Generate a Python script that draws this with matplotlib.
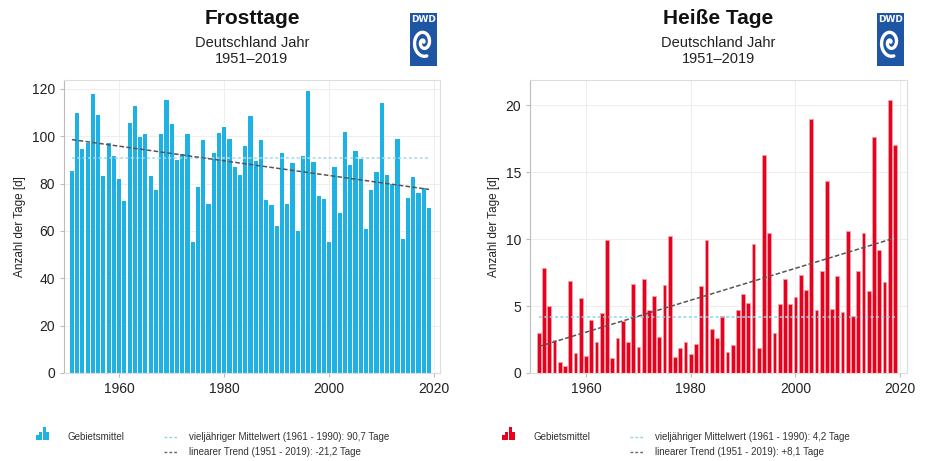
import numpy as np
import matplotlib
matplotlib.use("Agg")
import matplotlib.pyplot as plt

# Daten: Frosttage / Heiße Tage, Deutschland, 1951-2019 (Gebietsmittel)
years = list(range(1951, 2020))

frosttage = [85.4, 109.7, 94.6, 97.0, 117.7, 109.0, 83.3, 97.2, 91.6, 82.1,
             72.6, 105.4, 112.8, 99.5, 100.8, 83.3, 77.2, 100.8, 115.3, 105.0,
             90.0, 92.4, 100.8, 55.3, 78.6, 98.4, 71.5, 93.0, 101.5, 103.9,
             99.0, 86.8, 83.4, 96.0, 108.3, 89.5, 98.4, 73.2, 70.8, 61.9,
             93.0, 71.5, 88.5, 59.9, 91.6, 118.9, 89.2, 74.8, 73.4, 55.3,
             86.8, 67.7, 101.6, 87.8, 93.7, 90.3, 60.6, 77.2, 85.0, 114.2,
             83.5, 80.0, 99.0, 56.7, 74.0, 82.8, 76.2, 77.9, 69.7]

heisse_tage = [2.98, 7.87, 4.99, 2.48, 0.85, 0.53, 6.87, 1.53, 5.59, 1.25,
               3.96, 2.28, 4.49, 9.92, 1.15, 2.58, 3.90, 2.33, 6.62, 1.98,
               7.00, 4.71, 5.79, 2.70, 6.59, 10.23, 1.23, 1.85, 2.28, 1.45,
               2.16, 6.54, 9.92, 3.28, 2.60, 4.29, 1.60, 2.08, 4.71, 5.91,
               5.24, 9.62, 1.85, 16.27, 10.50, 2.96, 5.16, 7.04, 5.16, 5.66,
               7.34, 6.22, 19.02, 4.71, 7.59, 14.36, 4.79, 7.22, 4.59, 10.63,
               4.24, 7.62, 10.50, 6.12, 17.62, 9.22, 6.79, 20.40, 17.02]

mittel_frost = 90.7
mittel_heiss = 4.2

titel = ["Frosttage", "Heiße Tage"]
untertitel = "Deutschland Jahr\n1951–2019"
legende_mittel = ["vieljähriger Mittelwert (1961 - 1990): 90,7 Tage",
                  "vieljähriger Mittelwert (1961 - 1990): 4,2 Tage"]
legende_trend = ["linearer Trend (1951 - 2019): -21,2 Tage",
                 "linearer Trend (1951 - 2019): +8,1 Tage"]
ylabel = "Anzahl der Tage [d]"
xticks = [1960, 1980, 2000, 2020]
yticks_frost = [0, 20, 40, 60, 80, 100, 120]
yticks_heiss = [0, 5, 10, 15, 20]
icon_hoehen = [2, 3, 5, 3]

W, H = 929, 461
plt.rcParams['font.family'] = ['Liberation Sans', 'DejaVu Sans']
TITLE_FONT = ['Liberation Sans Narrow', 'Liberation Sans', 'DejaVu Sans']

fig = plt.figure(figsize=(W / 100, H / 100), dpi=100)
fig.patch.set_facecolor('white')


def fx(px):
    return px / W


def fy(py):
    return 1 - py / H


def draw_logo(x0):
    lax = fig.add_axes([fx(x0), fy(66), fx(27), 53 / H])
    lax.set_facecolor('#1f55a5')
    lax.set_xlim(-1, 1)
    lax.set_ylim(-1.35, 1)
    lax.set_xticks([])
    lax.set_yticks([])
    for s in lax.spines.values():
        s.set_visible(False)
    lax.text(0, 0.72, "DWD", color='white', fontsize=6.5, fontweight='bold',
             ha='center', va='center', family=['Liberation Sans Narrow', 'DejaVu Sans'])
    t = np.linspace(0.3, 3.6 * np.pi, 200)
    r = 0.07 * t
    lax.plot(r * np.cos(t), -0.3 + r * np.sin(t) * 0.8, color='white', lw=2.4,
             solid_capstyle='round')


def draw_panel(x0, x1, werte, mittel, farbe, kante, breite, yt, ymax, xmin, xmax, idx):
    ax = fig.add_axes([fx(x0), fy(373), fx(x1 - x0), (373 - 80) / H])
    ax.bar(years, werte, width=breite, color=farbe, edgecolor=kante,
           linewidth=0.6 if kante != 'none' else 0, zorder=2)
    mfarbe = '#a8d8ea' if idx == 0 else '#8fd3ec'
    ax.plot([years[0], years[-1]], [mittel, mittel], color=mfarbe,
            lw=1.1, linestyle=(0, (2, 1.5)), zorder=3)
    k, d = np.polyfit(years, werte, 1)
    ax.plot([years[0], years[-1]], [k * years[0] + d, k * years[-1] + d],
            color='#555555', lw=1.1, linestyle=(0, (3, 1.5)), zorder=4)
    ax.set_xlim(xmin, xmax)
    ax.set_ylim(0, ymax)
    ax.set_xticks(xticks)
    ax.set_yticks(yt)
    ax.grid(True, color='#eeeeee', lw=0.8, zorder=0)
    ax.set_axisbelow(True)
    for s in ax.spines.values():
        s.set_color('#dddddd')
    ax.spines['left'].set_color('#bbbbbb')
    ax.tick_params(axis='both', labelsize=10, colors='#bbbbbb', labelcolor='#222222',
                   length=3, width=0.8)
    ax.set_ylabel(ylabel, fontsize=8.5, color='#222222', labelpad=4)

    cx = (x0 + x1) / 2
    fig.text(fx(cx), fy(19), titel[idx], fontsize=15, fontweight='bold',
             ha='center', va='center', family=TITLE_FONT, color='#111111')
    fig.text(fx(cx), fy(51), untertitel, fontsize=10.5, ha='center', va='center',
             family=TITLE_FONT, color='#222222', linespacing=1.15)
    draw_logo(x1 - 30)

    # Legende unten
    base = x0 - 28
    iax = fig.add_axes([fx(base), fy(440), fx(13), 13 / H])
    iax.bar(range(len(icon_hoehen)), icon_hoehen, width=0.9, color=farbe)
    iax.set_xlim(-0.5, len(icon_hoehen) - 0.5)
    iax.set_ylim(0, max(icon_hoehen))
    iax.axis('off')
    fig.text(fx(base + 32), fy(437), "Gebietsmittel", fontsize=7, va='center',
             color='#333333')
    lx = base + 128
    fig.lines.append(plt.Line2D([fx(lx), fx(lx + 14)], [fy(437), fy(437)],
                                transform=fig.transFigure, color='#8fd3ec', lw=1,
                                linestyle=(0, (2, 1.5))))
    fig.lines.append(plt.Line2D([fx(lx), fx(lx + 14)], [fy(452), fy(452)],
                                transform=fig.transFigure, color='#666666', lw=1,
                                linestyle=(0, (2, 1.5))))
    fig.text(fx(lx + 25), fy(437), legende_mittel[idx], fontsize=7, va='center',
             color='#333333')
    fig.text(fx(lx + 25), fy(452), legende_trend[idx], fontsize=7, va='center',
             color='#333333')
    return ax


draw_panel(64, 440, frosttage, mittel_frost, '#1eb1e4', 'none', 0.8,
           yticks_frost, 123.7, 1949.5, 2021.1, 0)
draw_panel(530, 907, heisse_tage, mittel_heiss, '#e8001f', '#f4a3a8', 0.72,
           yticks_heiss, 21.9, 1949.3, 2021.3, 1)

fig.savefig("out.png", dpi=100, facecolor='white')
